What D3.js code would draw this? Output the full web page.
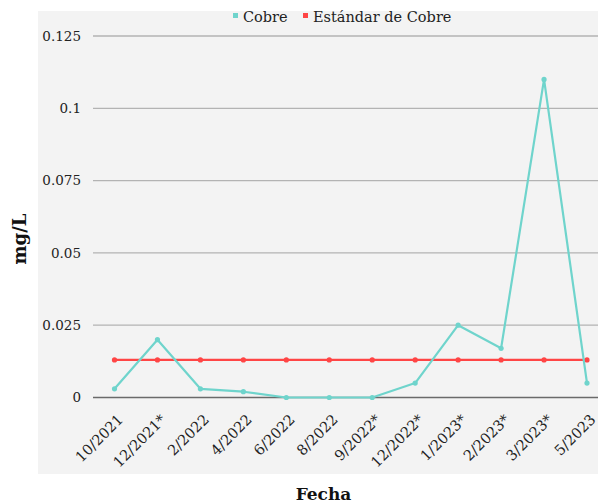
<!DOCTYPE html>
<html>
<head>
<meta charset="utf-8">
<script src="https://cdn.jsdelivr.net/npm/d3@7"></script>
<style>
  html, body { margin: 0; padding: 0; background: #ffffff; }
  svg { display: block; font-family: "DejaVu Serif", serif; }
</style>
</head>
<body>
<svg id="chart" width="598" height="504"></svg>
<script>
// Sampling dates (asterisk marks flagged samples)
const fechas = ["10/2021", "12/2021*", "2/2022", "4/2022", "6/2022", "8/2022",
                "9/2022*", "12/2022*", "1/2023*", "2/2023*", "3/2023*", "5/2023"];
// Copper concentration, mg/L
const cobre = [0.003, 0.02, 0.003, 0.002, 0, 0, 0, 0.005, 0.025, 0.017, 0.11, 0.005];
// Copper standard, mg/L
const estandar = [0.013, 0.013, 0.013, 0.013, 0.013, 0.013, 0.013, 0.013, 0.013, 0.013, 0.013, 0.013];
// Y-axis ticks
const yTicks = [0, 0.025, 0.05, 0.075, 0.1, 0.125];
const yTickLabels = ["0", "0.025", "0.05", "0.075", "0.1", "0.125"];
const seriesNames = ["Cobre", "Estándar de Cobre"];
const seriesColors = ["#6fd4cc", "#ff4545"];

const svg = d3.select("#chart");

// Plot background panel
svg.append("rect")
  .attr("x", 38).attr("y", 11)
  .attr("width", 580).attr("height", 463)
  .attr("fill", "#f3f3f3");

const x = d3.scalePoint().domain(fechas).range([114.5, 587]);
const y = d3.scaleLinear().domain([0, 0.125]).range([397.5, 36]);

const gridX0 = 93, gridX1 = 610;

// Horizontal gridlines
svg.append("g").selectAll("line")
  .data(yTicks)
  .join("line")
  .attr("x1", gridX0).attr("x2", gridX1)
  .attr("y1", d => y(d)).attr("y2", d => y(d))
  .attr("stroke", d => d === 0 ? "#6a6a6a" : "#b3b3b3")
  .attr("stroke-width", 1.3);

// Y axis labels
const yAxis = d3.axisLeft(y)
  .tickValues(yTicks)
  .tickFormat((d, i) => yTickLabels[i])
  .tickSize(0)
  .tickPadding(0);
const yg = svg.append("g")
  .attr("transform", `translate(81,0)`)
  .call(yAxis);
yg.select(".domain").remove();
yg.selectAll("text")
  .attr("font-family", "DejaVu Serif, serif")
  .attr("font-size", 13.5)
  .attr("fill", "#222");

// X axis labels, rotated
const xAxis = d3.axisBottom(x).tickSize(0).tickPadding(0);
const xg = svg.append("g")
  .attr("transform", `translate(0,${y(0)})`)
  .call(xAxis);
xg.select(".domain").remove();
xg.selectAll("text")
  .attr("font-family", "DejaVu Serif, serif")
  .attr("font-size", 14.5)
  .attr("fill", "#222")
  .attr("text-anchor", "end")
  .attr("dy", null)
  .attr("y", 0)
  .attr("transform", "translate(9,23) rotate(-45)");

// Series lines and markers
const seriesData = [cobre, estandar];
const line = d3.line()
  .x((d, i) => x(fechas[i]))
  .y(d => y(d));

// Draw the standard first so copper line stays on top where they meet
[1, 0].forEach(s => {
  const g = svg.append("g");
  g.append("path")
    .datum(seriesData[s])
    .attr("d", line)
    .attr("fill", "none")
    .attr("stroke", seriesColors[s])
    .attr("stroke-width", 2.2)
    .attr("stroke-linejoin", "round");
  g.selectAll("circle")
    .data(seriesData[s])
    .join("circle")
    .attr("cx", (d, i) => x(fechas[i]))
    .attr("cy", d => y(d))
    .attr("r", 2.6)
    .attr("fill", seriesColors[s]);
});

// Legend
const legend = svg.append("g");
const legendItems = [{ x: 233, name: seriesNames[0], color: seriesColors[0] },
                     { x: 303, name: seriesNames[1], color: seriesColors[1] }];
legendItems.forEach(it => {
  legend.append("rect")
    .attr("x", it.x).attr("y", 13)
    .attr("width", 5).attr("height", 5)
    .attr("fill", it.color);
  legend.append("text")
    .attr("x", it.x + 10).attr("y", 22)
    .attr("font-size", 14.5)
    .attr("fill", "#222")
    .text(it.name);
});

// Axis titles
svg.append("text")
  .attr("transform", "translate(26,239) rotate(-90)")
  .attr("text-anchor", "middle")
  .attr("font-size", 18)
  .attr("font-weight", "bold")
  .attr("fill", "#111")
  .text("mg/L");

svg.append("text")
  .attr("x", 323.5).attr("y", 500)
  .attr("text-anchor", "middle")
  .attr("font-size", 17)
  .attr("font-weight", "bold")
  .attr("fill", "#111")
  .text("Fecha");
</script>
</body>
</html>
